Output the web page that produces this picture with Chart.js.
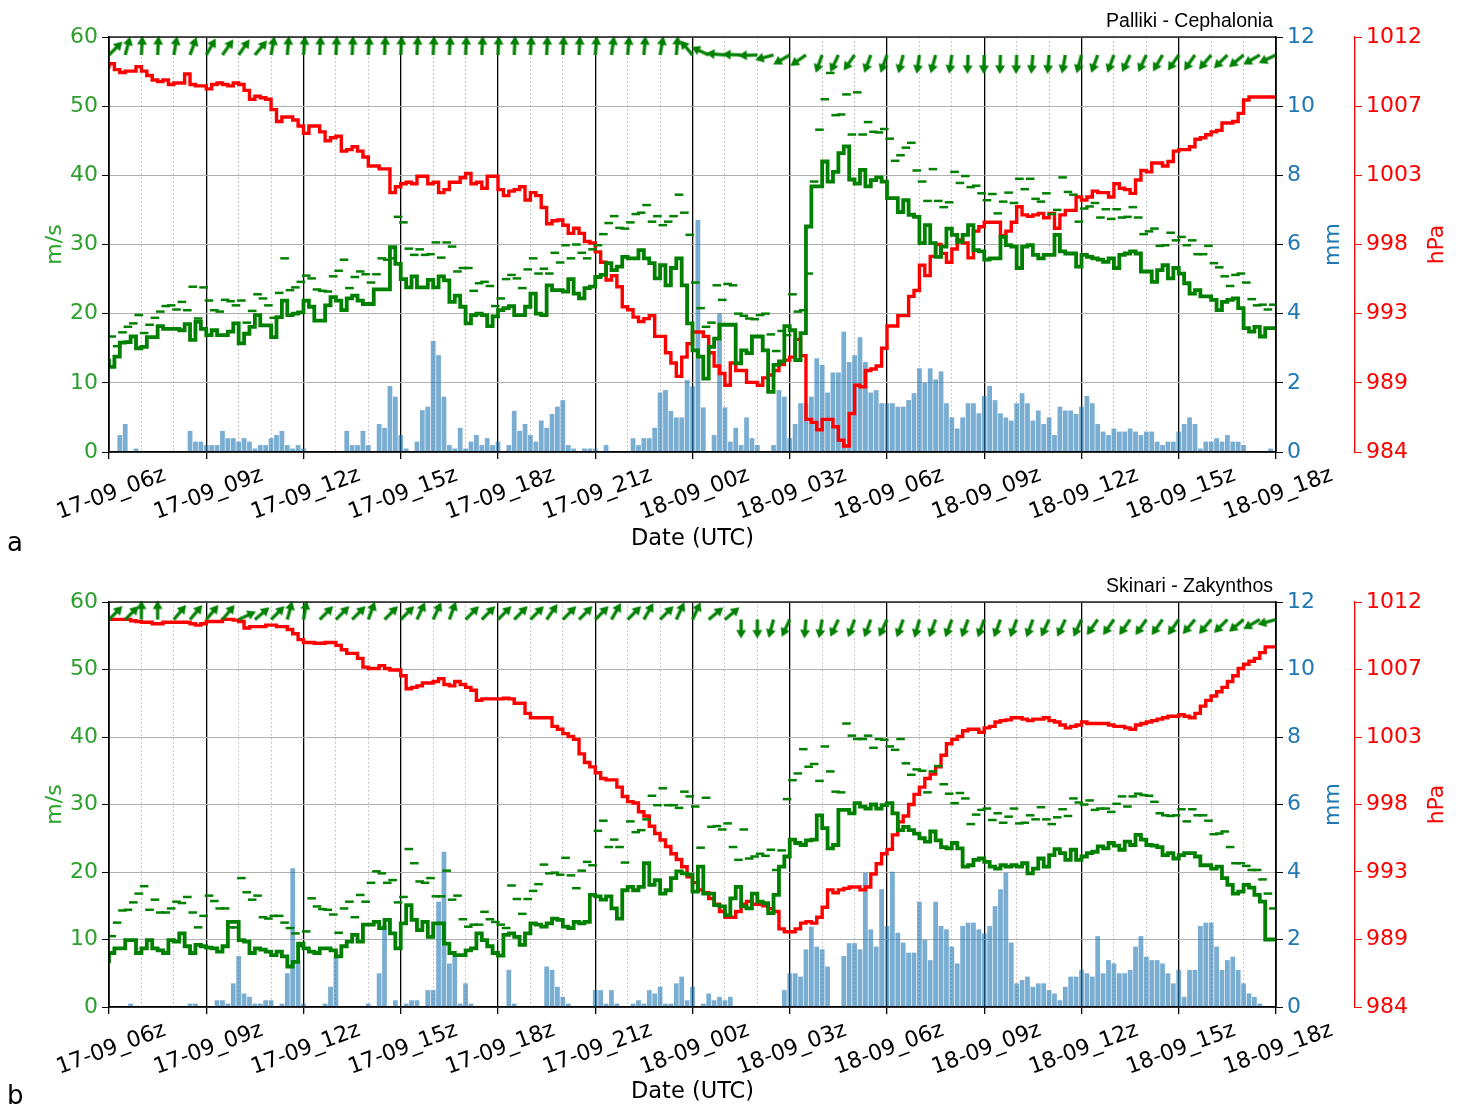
<!DOCTYPE html>
<html>
<head>
<meta charset="utf-8">
<script src="https://cdn.jsdelivr.net/npm/chart.js@4.4.1/dist/chart.umd.min.js"></script>
<style>
  html, body { margin: 0; padding: 0; background: #fff; }
  canvas { display: block; }
</style>
</head>
<body>
<canvas id="chartA" width="1461" height="553"></canvas>
<canvas id="chartB" width="1461" height="553"></canvas>
<script>
// 10-minute station records, 17-09 06z .. 18-09 18z (216 steps), wind arrows every 30 min (73)
const xTickLabels = ['17-09_06z', '17-09_09z', '17-09_12z', '17-09_15z', '17-09_18z', '17-09_21z',
  '18-09_00z', '18-09_03z', '18-09_06z', '18-09_09z', '18-09_12z', '18-09_15z', '18-09_18z'];
const stations = ['Palliki - Cephalonia', 'Skinari - Zakynthos'];
const panelLetters = ['a', 'b'];

// ---- Palliki - Cephalonia ----
const windA = [
  13.5,12.3,13.8,15.8,15.9,16.7, 15.0,15.2,16.6,16.6,18.2,17.8, 17.8,17.8,17.6,18.5,16.2,18.8,
  17.8,16.9,17.6,16.9,16.9,17.4, 18.6,15.7,17.1,18.1,19.8,18.3, 18.3,16.6,19.5,21.9,19.8,20.0,
  20.2,21.9,21.0,19.0,19.0,21.2, 22.4,21.9,20.5,22.2,22.6,21.9, 21.4,21.4,23.5,23.5,23.5,29.6,
  27.2,25.0,23.8,25.4,23.8,23.8, 24.9,23.8,25.4,24.8,21.7,22.6, 21.0,18.6,19.8,20.0,19.8,18.2,
  19.6,20.5,20.8,21.1,19.8,19.8, 21.0,22.9,20.0,19.8,24.1,23.4, 23.4,23.2,25.0,22.9,22.2,23.7,
  23.9,25.3,25.6,27.3,26.3,26.8, 28.2,28.0,28.0,29.2,28.0,27.3, 25.1,27.0,24.1,26.6,28.0,24.1,
  18.6,14.7,13.8,10.6,15.2,16.4, 18.4,18.4,18.4,12.8,14.7,14.3, 16.7,16.7,14.7,8.7,12.6,13.1,
  18.2,17.6,13.3,17.2,32.6,38.4, 38.4,42.0,39.1,40.5,43.2,44.2, 39.4,38.8,40.8,38.4,39.3,39.7,
  39.1,36.7,36.7,34.7,36.4,34.3, 34.0,30.2,32.8,30.2,28.2,29.7, 32.3,31.4,30.4,31.4,32.8,29.2,
  29.0,27.8,28.0,28.0,31.1,29.9, 29.7,26.6,29.7,29.9,28.5,28.0, 28.5,28.5,31.4,29.0,28.7,28.7,
  26.8,28.5,28.2,28.0,27.8,27.5, 28.0,26.6,28.5,28.7,29.0,28.7, 26.1,26.1,24.6,26.3,27.0,25.1,
  26.6,25.8,24.4,22.9,23.4,22.5, 22.5,22.0,20.5,21.7,22.0,22.2, 20.8,17.9,17.4,18.1,16.7,17.9
];
const gustA = [
  16.7,15.3,17.3,18.1,18.6,19.8, 17.2,18.4,19.4,20.3,21.1,21.2, 20.6,21.7,20.5,23.9,19.3,23.8,
  21.9,20.5,20.3,22.0,21.8,21.2, 21.9,18.7,20.4,22.8,22.2,21.2, 19.4,23.0,28.0,23.4,23.8,24.6,
  25.5,25.1,23.5,23.3,23.2,25.4, 26.2,27.8,23.7,25.3,26.1,25.7, 24.5,25.7,28.0,27.8,28.0,34.0,
  33.2,29.4,28.5,29.3,28.5,28.6, 30.3,28.1,30.3,29.7,26.1,26.6, 26.6,23.3,24.4,24.6,24.0,21.1,
  22.2,25.0,25.6,25.1,23.7,26.4, 28.0,25.8,26.5,25.8,28.8,27.4, 29.9,28.0,30.0,28.8,28.0,29.3,
  29.9,31.5,33.1,34.1,32.4,32.3, 33.2,34.4,34.6,35.7,33.3,34.1, 32.8,33.3,34.1,37.2,34.6,31.4,
  24.5,20.8,18.1,18.7,24.1,22.0, 24.3,24.1,20.0,19.7,19.3,19.2, 19.8,20.0,17.0,14.6,17.5,16.9,
  22.8,20.3,20.5,25.8,39.1,46.6, 51.0,54.8,48.7,48.8,51.7,45.9, 52.0,45.9,47.7,46.3,46.2,46.7,
  45.3,42.1,42.9,44.0,44.7,40.7, 39.1,36.3,40.9,36.3,35.4,36.1, 40.5,38.9,39.9,38.3,38.5,37.4,
  36.4,37.3,34.5,36.2,37.5,36.0, 39.5,38.0,39.5,36.6,36.2,37.4, 34.4,35.0,39.7,37.6,37.2,33.3,
  35.2,35.5,36.0,33.9,35.1,33.7, 35.1,33.9,34.0,35.4,33.9,31.5, 31.9,32.3,29.8,29.9,31.7,30.6,
  31.1,29.9,30.6,28.6,28.6,29.8, 27.3,26.7,25.4,24.0,25.6,25.8, 24.5,22.1,21.2,21.3,20.6,21.3
];
const rainA = [
  0,0.49,0.81,0,0.1,0, 0,0,0,0,0,0, 0,0,0.61,0.3,0.3,0.2,
  0.2,0.2,0.61,0.4,0.4,0.3, 0.4,0.3,0.1,0.2,0.2,0.4, 0.49,0.61,0.2,0.1,0.2,0.1,
  0,0,0,0,0,0, 0,0.61,0.2,0.2,0.61,0.2, 0,0.81,0.7,1.91,1.6,0.49,
  0.1,0,0.3,1.21,1.31,3.21, 2.8,1.6,0.2,0.1,0.7,0.1, 0.3,0.49,0.2,0.4,0.2,0.3,
  0,0.2,1.19,0.61,0.81,0.49, 0.3,0.91,0.7,1.1,1.31,1.5, 0.2,0.1,0,0.1,0.1,0.1,
  0,0.2,0,0,0,0, 0.4,0.2,0.4,0.4,0.7,1.72, 1.79,1.19,1.0,1.0,2.08,1.9,
  6.71,1.29,0,0.49,4.01,1.29, 0.3,0.7,0.2,1.0,0.4,0.2, 0,0,0.2,1.79,1.6,0.4,
  0.81,1.41,1.41,1.6,2.71,2.52, 1.72,2.3,2.3,3.48,2.6,2.8, 3.32,2.6,1.72,1.79,1.41,1.41,
  1.41,1.31,1.31,1.5,1.7,2.42, 2.0,2.42,2.1,2.33,1.41,1.0, 0.68,1.0,1.41,1.41,1.12,1.62,
  1.91,1.5,1.12,1.0,0.91,1.41, 1.7,1.41,0.91,1.2,0.81,1.0, 0.49,1.31,1.2,1.2,1.1,1.31,
  1.62,1.41,0.81,0.59,0.49,0.68, 0.59,0.59,0.68,0.59,0.49,0.59, 0.59,0.3,0.2,0.3,0.3,0.59,
  0.81,1.0,0.81,0.1,0.3,0.3, 0.4,0.3,0.49,0.3,0.3,0.2, 0,0,0,0,0.1,0
];
const presA = [
  1009.9,1010.2,1009.8,1009.6,1009.7,1009.7, 1010.0,1009.7,1009.4,1009.1,1009.0,1009.1,
  1008.8,1008.9,1008.9,1009.5,1008.8,1008.7, 1008.7,1008.5,1008.8,1008.9,1008.8,1008.7,
  1008.9,1008.8,1008.4,1007.8,1008.0,1007.9, 1007.8,1007.1,1006.3,1006.6,1006.6,1006.4,
  1006.0,1005.5,1006.0,1006.0,1005.6,1005.0, 1005.2,1005.3,1004.3,1004.4,1004.6,1004.3,
  1003.9,1003.3,1003.3,1003.1,1003.1,1001.5, 1001.9,1002.1,1002.2,1002.1,1002.6,1002.6,
  1002.1,1002.2,1001.5,1001.7,1002.2,1002.2, 1002.5,1002.8,1002.1,1002.2,1001.8,1002.6,
  1002.6,1001.7,1001.3,1001.6,1001.7,1001.9, 1001.0,1001.5,1001.3,1000.5,999.4,999.6,
  999.65,999.3,998.75,999.1,998.75,998.2, 998.1,997.5,996.8,995.6,995.9,995.15,
  993.8,993.6,993.1,992.8,993.0,993.2, 991.8,991.8,990.7,990.0,989.1,990.4,
  991.3,992.1,992.1,991.8,990.7,989.8, 989.3,988.5,990.0,989.5,989.5,988.7,
  988.7,988.5,989.0,989.2,989.5,989.9, 990.2,990.4,991.6,990.5,986.2,986.0,
  985.5,986.2,986.2,985.7,984.8,984.4, 986.6,988.5,988.4,989.5,989.6,989.8,
  991.0,992.5,992.5,993.2,993.2,994.5, 994.9,996.6,995.9,997.2,998.0,997.4,
  996.8,997.7,998.3,998.1,997.1,998.9, 999.2,999.5,999.5,999.5,998.6,998.9,
  999.5,1000.55,1000.0,999.9,1000.0,1000.1, 999.8,1000.1,999.1,1000.0,1000.3,1000.3,
  1001.2,1001.0,1001.2,1001.6,1001.5,1001.5, 1001.2,1002.1,1001.8,1001.7,1001.45,1002.35,
  1003.0,1002.9,1003.5,1003.5,1003.3,1003.6, 1004.3,1004.4,1004.4,1004.6,1005.1,1005.2,
  1005.4,1005.6,1005.7,1006.2,1006.2,1006.3, 1006.85,1007.75,1007.95,1007.95,1007.95,1007.95
];
// direction the arrow points to, degrees clockwise from north
const dirA = [
  45,15,3,3,10,20, 30,35,35,40,10,5, 5,3,3,3,3,3, 3,3,3,3,3,3,
  3,3,3,3,3,3, 5,8,5,5,10,5, 320,295,275,272,268,255, 240,235,200,205,215,200,
  200,195,188,195,188,182, 182,182,182,185,185,190, 195,200,200,205,205,210,
  215,215,220,225,230,240, 245
];

// ---- Skinari - Zakynthos ----
const windB = [
  6.5,8.0,8.7,8.7,9.9,9.9, 8.0,8.7,9.9,8.7,8.4,8.0, 9.9,9.7,10.9,9.0,8.0,9.2,
  9.0,8.8,8.7,8.2,9.0,12.6, 12.6,9.9,9.7,8.0,8.7,8.5, 8.2,7.7,8.2,7.5,6.0,6.7,
  9.4,8.7,8.2,8.0,8.7,8.7, 8.4,7.5,9.0,9.7,10.7,9.7, 12.2,12.2,12.6,11.7,12.9,10.9,
  8.7,12.4,15.1,12.9,11.4,12.6, 10.4,12.4,12.4,9.4,8.0,7.7, 7.7,8.4,8.7,10.9,9.9,9.0,
  8.0,7.6,10.7,10.9,10.4,9.2, 10.9,12.4,12.2,11.9,12.4,13.1, 12.9,11.9,11.7,12.6,12.4,12.6,
  16.6,16.4,15.9,16.4,14.6,13.1, 17.3,17.8,17.3,17.8,21.3,18.1, 18.8,16.8,17.3,19.1,20.1,19.8,
  19.6,17.1,20.8,16.8,16.8,15.1, 14.9,13.6,16.1,17.8,14.9,14.6, 16.8,15.6,15.4,13.9,16.6,20.8,
  22.3,24.8,24.3,24.0,24.7,24.8, 28.4,26.5,23.5,24.0,29.2,29.2, 28.7,30.2,29.7,29.4,30.0,29.4,
  29.9,30.2,28.7,26.2,26.7,26.2, 25.7,25.0,24.5,26.0,24.7,23.7, 23.5,24.3,23.5,20.8,21.0,21.8,
  22.0,21.5,20.8,20.5,21.0,20.8, 21.0,20.8,21.3,19.8,20.5,22.0, 20.8,22.5,23.4,22.8,21.8,23.3,
  21.8,22.3,22.8,23.0,23.8,23.5, 24.3,23.9,23.3,24.5,24.0,25.5, 24.8,24.0,23.9,23.7,22.5,22.8,
  22.0,22.5,22.8,22.8,22.3,21.0, 21.0,20.5,20.8,19.1,18.1,16.8, 17.1,18.1,17.7,16.6,15.6,10.0
];
const gustB = [
  10.5,12.5,14.3,14.4,15.5,16.8, 17.9,14.4,15.9,14.0,14.0,14.6, 15.6,15.4,16.3,14.0,11.8,13.5,
  16.5,15.7,14.6,14.6,11.8,11.8, 19.1,17.0,15.9,16.5,13.3,13.1, 13.5,13.5,12.5,11.7,10.9,9.0,
  11.2,16.1,14.9,14.5,14.4,13.7, 11.0,14.6,15.6,13.3,16.6,15.6, 18.4,20.1,19.8,18.4,18.8,15.5,
  16.3,23.4,21.3,18.6,18.4,19.1, 16.4,16.4,20.2,15.9,16.5,13.0, 11.9,12.2,12.2,14.1,13.0,12.6,
  12.2,11.7,18.0,16.0,13.8,16.0, 17.2,18.2,21.1,19.8,19.9,19.6, 22.1,19.5,17.6,20.2,21.5,21.0,
  26.1,27.6,23.7,24.8,23.7,21.4, 27.5,25.9,26.2,27.8,31.3,29.9, 32.4,29.9,29.9,29.5,31.9,31.2,
  29.7,23.6,31.0,26.7,26.8,26.3, 27.2,23.7,21.8,26.3,22.0,22.3, 22.7,22.4,23.3,20.3,23.2,30.8,
  33.6,34.6,38.2,35.6,36.0,33.5, 38.6,34.9,31.9,31.8,42.0,40.2, 39.7,39.7,40.2,38.4,39.7,39.6,
  38.6,38.1,39.7,36.1,34.4,35.2, 35.0,31.8,34.9,35.7,33.0,31.6, 30.2,31.7,30.9,27.1,28.5,29.2,
  29.4,27.7,28.7,27.3,28.2,29.4, 27.2,27.3,28.4,27.8,29.6,27.8, 27.1,28.1,29.3,28.3,30.9,30.3,
  30.0,30.6,29.2,29.4,29.4,28.9, 30.1,31.2,29.7,31.2,31.6,31.4, 31.3,30.4,28.7,28.4,28.3,28.4,
  29.3,27.5,29.3,28.4,28.4,27.6, 25.6,25.7,26.0,23.7,21.3,21.3, 20.9,20.3,20.3,18.9,16.8,14.6
];
const rainB = [
  0,0,0,0.1,0,0, 0,0,0,0,0,0, 0,0,0.1,0.1,0,0,
  0,0.2,0.2,0.1,0.7,1.51, 0.4,0.3,0.1,0.1,0.2,0.2, 0,0.1,1.0,4.11,1.39,0.1,
  0,0,0,0.1,0.6,1.51, 0,0,0,0,0,0.1, 0,1.0,2.43,0,0.2,0,
  0.1,0.2,0.2,0,0.5,0.5, 3.12,4.6,1.29,1.59,0.1,0.7, 0.1,0,0,0,0,0,
  0,1.1,0.1,0,0,0, 0,0,1.2,1.1,0.6,0.3, 0.1,0,0,0,0,0.5,
  0.5,0.1,0.5,0.1,0,0, 0.1,0.2,0.1,0.5,0.4,0.6, 0.1,0.1,0.7,0.9,0.2,0.6,
  0,0.1,0.4,0.2,0.3,0.2, 0.3,0,0,0,0,0, 0,0,0,0,0.5,1.0,
  1.0,0.9,1.71,2.38,1.79,1.71, 1.2,0,0,1.51,1.89,1.89, 1.71,3.98,2.3,1.79,3.49,2.4,
  4.01,2.2,1.91,1.61,1.61,3.12, 1.99,1.39,3.12,2.4,2.3,1.79, 1.29,2.4,2.5,2.5,2.3,2.18,
  2.4,2.99,3.49,3.98,1.91,0.7, 0.8,0.9,0.6,0.7,0.7,0.5, 0.4,0.2,0.6,0.9,0.9,1.1,
  1.0,0.9,2.1,1.0,1.39,1.29, 1.0,1.0,1.1,1.79,2.1,1.49, 1.39,1.39,1.29,1.0,0.7,1.1,
  0.3,1.1,1.1,2.4,2.5,2.5, 1.79,1.1,1.39,1.49,1.1,0.7, 0.4,0.3,0.1,0,0,0
];
const presB = [
  1010.8,1010.8,1010.8,1010.8,1010.8,1010.7, 1010.65,1010.6,1010.6,1010.5,1010.5,1010.6,
  1010.6,1010.6,1010.6,1010.6,1010.5,1010.4, 1010.5,1010.65,1010.65,1010.65,1010.8,1010.8,
  1010.75,1010.65,1010.2,1010.3,1010.3,1010.3, 1010.4,1010.4,1010.3,1010.3,1010.1,1009.8,
  1009.4,1009.2,1009.2,1009.15,1009.15,1009.2, 1009.2,1009.0,1008.7,1008.45,1008.45,1008.1,
  1007.5,1007.4,1007.4,1007.6,1007.4,1007.3, 1007.3,1006.9,1006.0,1006.1,1006.2,1006.4,
  1006.4,1006.5,1006.7,1006.3,1006.2,1006.5, 1006.3,1006.1,1005.9,1005.2,1005.3,1005.3,
  1005.3,1005.3,1005.35,1005.3,1005.0,1005.0, 1004.3,1004.0,1004.0,1004.0,1004.0,1003.4,
  1003.2,1002.9,1002.7,1002.5,1001.5,1000.9, 1000.6,1000.2,999.8,999.7,999.7,999.2,
  998.55,998.2,998.1,997.5,997.2,996.5, 996.0,995.55,995.1,994.6,994.2,993.7,
  993.0,992.6,992.1,991.9,991.5,991.1, 990.6,990.2,990.2,990.6,991.1,991.3,
  991.1,991.1,991.0,990.8,990.6,989.4, 989.2,989.2,989.4,989.8,989.9,989.8,
  990.2,990.9,992.1,991.9,992.1,992.2, 992.3,992.3,992.1,992.3,993.2,993.9,
  994.6,994.9,995.9,996.8,997.2,998.0, 998.7,999.2,999.8,1000.1,1000.6,1001.4,
  1002.2,1002.5,1002.7,1003.1,1003.2,1003.2, 1003.0,1003.3,1003.4,1003.7,1003.8,1003.85,
  1004.0,1004.0,1003.9,1003.8,1003.9,1003.9, 1004.0,1003.8,1003.7,1003.5,1003.3,1003.4,
  1003.5,1003.7,1003.6,1003.6,1003.6,1003.6, 1003.5,1003.4,1003.4,1003.3,1003.2,1003.5,
  1003.6,1003.7,1003.8,1003.9,1004.0,1004.1, 1004.1,1004.2,1004.1,1004.0,1004.3,1004.8,
  1005.2,1005.5,1005.8,1006.1,1006.5,1006.9, 1007.4,1007.7,1007.9,1008.1,1008.5,1008.9
];
const dirB = [
  45,45,0,0,40,40, 40,40,65,50,45,15, 10,45,45,45,20,45, 45,25,25,20,45,45,
  45,45,45,35,45,45, 45,30,45,30,45,25, 25,50,50,180,180,195, 205,185,190,205,200,200,
  205,200,195,200,200,200, 200,200,200,200,205,205, 205,215,215,215,215,215,
  215,220,220,225,230,240, 255
];

const stepHours = 1 / 6;      // 10-minute records
const arrowStepHours = 0.5;   // one wind arrow every 30 min
const arrowRow = 57.4;        // m/s level of the arrow row

const windGreen = '#008000';
const labelGreen = '#2ca02c';
const rainBlue = '#1f77b4';
const presRed = '#ff0000';

Chart.defaults.font.family = "'DejaVu Sans', sans-serif";

function stepSeries(vals) {
  const pts = vals.map((v, i) => ({ x: i * stepHours, y: v }));
  pts.push({ x: vals.length * stepHours, y: vals[vals.length - 1] });
  return pts;
}
function gustSeries(vals) {
  return vals.map((v, i) => ({ x: (i + 0.5) * stepHours, y: v }));
}
function rainSeries(vals) {
  return vals.map((v, i) => ({ x: (i + 1) * stepHours, y: v }));
}
function arrowSeries(dirs) {
  return dirs.map((d, k) => ({ x: k * arrowStepHours, y: arrowRow }));
}

// quiver-like arrow, tail at the image centre, pointing east
function makeArrow() {
  const len = 19, size = 44, m = size / 2;
  const c = document.createElement('canvas');
  c.width = size; c.height = size;
  const g = c.getContext('2d');
  g.fillStyle = windGreen;
  g.fillRect(m, m - 1.6, len - 7, 3.2);
  g.beginPath();
  g.moveTo(m + len - 8.5, m - 5);
  g.lineTo(m + len, m);
  g.lineTo(m + len - 8.5, m + 5);
  g.closePath();
  g.fill();
  return c;
}
const arrowImg = makeArrow();

const panelDecor = {
  id: 'panelDecor',
  afterDraw(chart, args, opts) {
    const { ctx, chartArea: a } = chart;
    ctx.save();
    ctx.strokeStyle = '#000';
    ctx.lineWidth = 1.3;
    ctx.strokeRect(a.left, a.top, a.right - a.left, a.bottom - a.top);

    ctx.fillStyle = '#000';
    ctx.font = "19.5px 'Liberation Sans', Arial, sans-serif";
    ctx.textAlign = 'right';
    ctx.textBaseline = 'alphabetic';
    ctx.fillText(opts.station, a.right - 3, a.top - 10);

    ctx.font = "26px 'DejaVu Sans', sans-serif";
    ctx.textAlign = 'left';
    ctx.fillText(opts.letter, 7, chart.height - 2);

    const midY = (a.top + a.bottom) / 2;
    const rot = (text, x, color) => {
      ctx.save();
      ctx.translate(x, midY);
      ctx.rotate(-Math.PI / 2);
      ctx.fillStyle = color;
      ctx.font = "22px 'DejaVu Sans', sans-serif";
      ctx.textAlign = 'center';
      ctx.textBaseline = 'middle';
      ctx.fillText(text, 0, 0);
      ctx.restore();
    };
    rot('mm', chart.scales.yMM.left + 57, rainBlue);
    rot('hPa', chart.scales.yP.left + 82, presRed);
    ctx.restore();
  }
};

function makePanel(id, p) {
  const isMajor = c => c.tick && c.tick.value % 3 === 0;
  return new Chart(document.getElementById(id), {
    type: 'line',
    data: {
      datasets: [
        { label: 'direction', data: arrowSeries(p.dir), yAxisID: 'y', showLine: false,
          pointStyle: arrowImg, pointRadius: 10, pointRotation: c => p.dir[c.dataIndex] - 90,
          clip: false, order: 1 },
        { label: 'gust', data: gustSeries(p.gust), yAxisID: 'y', showLine: false,
          pointStyle: 'line', pointRadius: 4.3, pointBorderWidth: 2.5,
          pointBorderColor: windGreen, pointBackgroundColor: windGreen, order: 2 },
        { label: 'wind', data: stepSeries(p.wind), yAxisID: 'y', stepped: 'after',
          borderColor: windGreen, borderWidth: 3.8, pointRadius: 0, order: 3 },
        { label: 'pressure', data: stepSeries(p.pres), yAxisID: 'yP', stepped: 'after',
          borderColor: presRed, borderWidth: 3.4, pointRadius: 0, order: 4 },
        { type: 'bar', label: 'rain', data: rainSeries(p.rain), yAxisID: 'yMM',
          backgroundColor: 'rgba(31,119,180,0.6)', borderWidth: 0,
          barPercentage: 0.88, categoryPercentage: 1, order: 5 }
      ]
    },
    options: {
      responsive: false,
      animation: false,
      events: [],
      layout: { padding: { top: p.padTop, left: 0, right: 0, bottom: 0 } },
      plugins: {
        legend: { display: false },
        tooltip: { enabled: false },
        panelDecor: { station: p.station, letter: p.letter }
      },
      scales: {
        x: {
          type: 'linear', position: 'bottom', min: 0, max: 36, offset: false,
          afterFit: s => { s.height = p.xHeight; s.paddingLeft = 0; s.paddingRight = 0; },
          ticks: {
            stepSize: 1, autoSkip: false, minRotation: 20, maxRotation: 20, labelOffset: 56,
            color: '#000', font: { size: 22 }, padding: 3,
            callback: v => (v % 3 === 0 ? xTickLabels[v / 3] : '')
          },
          grid: {
            offset: false,
            color: c => (isMajor(c) ? '#000' : '#b0b0b0'),
            lineWidth: c => (isMajor(c) ? 1.3 : 0.9),
            tickColor: c => (isMajor(c) ? '#000' : 'rgba(0,0,0,0)'),
            tickLength: 7
          },
          border: { color: '#000', width: 1.3, dash: c => (c.tick && c.tick.value % 3 !== 0 ? [1.5, 2.5] : []) },
          title: { display: true, text: 'Date (UTC)', color: '#000', font: { size: 22.5 }, padding: { top: 0, bottom: 0 } }
        },
        y: {
          position: 'left', min: 0, max: 60,
          afterFit: s => { s.width = 109; s.paddingTop = 0; s.paddingBottom = 0; },
          ticks: { stepSize: 10, color: labelGreen, font: { size: 22 }, padding: 4 },
          grid: { color: '#b0b0b0', lineWidth: 1, tickColor: '#000', tickLength: 7 },
          border: { color: '#000', width: 1.3 },
          title: { display: true, text: 'm/s', color: labelGreen, font: { size: 22 }, padding: { top: 42, bottom: 0 } }
        },
        yMM: {
          position: 'right', weight: 0, min: 0, max: 12,
          afterFit: s => { s.width = 79; s.paddingTop = 0; s.paddingBottom = 0; },
          ticks: { stepSize: 2, color: rainBlue, font: { size: 22 }, padding: 4 },
          grid: { drawOnChartArea: false, tickColor: '#000', tickLength: 7 },
          border: { color: '#000', width: 1.3 }
        },
        yP: {
          position: 'right', weight: 1, min: 984, max: 1012,
          afterFit: s => { s.width = 106; s.paddingTop = 0; s.paddingBottom = 0; },
          ticks: { count: 7, color: presRed, font: { size: 22 }, padding: 4, callback: v => Math.round(v) },
          grid: { drawOnChartArea: false, tickColor: presRed, tickLength: 7 },
          border: { color: presRed, width: 1.3 }
        }
      }
    },
    plugins: [panelDecor]
  });
}

makePanel('chartA', { wind: windA, gust: gustA, rain: rainA, pres: presA, dir: dirA,
  station: stations[0], letter: panelLetters[0], padTop: 37, xHeight: 101 });
makePanel('chartB', { wind: windB, gust: gustB, rain: rainB, pres: presB, dir: dirB,
  station: stations[1], letter: panelLetters[1], padTop: 49, xHeight: 99 });
</script>
</body>
</html>
